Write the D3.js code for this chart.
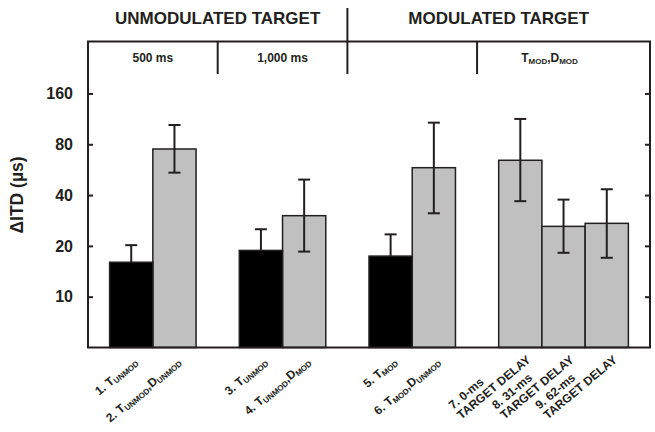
<!DOCTYPE html>
<html>
<head>
<meta charset="utf-8">
<script src="https://cdn.jsdelivr.net/npm/d3@7"></script>
<style>
  html, body { margin: 0; padding: 0; background: #fff; }
  svg { display: block; font-family: "Liberation Sans", Arial, sans-serif; font-weight: bold; }
</style>
</head>
<body>
<svg id="chart" width="655" height="432"></svg>
<script>
// ---- data ----
const slots = ["1", "2", "gapA", "3", "4", "gapB", "5", "6", "gapC", "7", "8", "9"];
const barIds = ["1", "2", "3", "4", "5", "6", "7", "8", "9"];
const barLabels = [
  ["1. T_{UNMOD}"],
  ["2. T_{UNMOD},D_{UNMOD}"],
  ["3. T_{UNMOD}"],
  ["4. T_{UNMOD},D_{MOD}"],
  ["5. T_{MOD}"],
  ["6. T_{MOD},D_{UNMOD}"],
  ["7. 0-ms", "TARGET DELAY"],
  ["8. 31-ms", "TARGET DELAY"],
  ["9. 62-ms", "TARGET DELAY"]
];
const barValues = [16.0, 75.0, 18.8, 30.2, 17.4, 58.1, 64.3, 26.1, 27.2];
const errLow = [12.7, 54.3, 14.1, 18.5, 12.9, 31.2, 36.8, 18.2, 17.0];
const errHigh = [20.2, 104, 25.1, 49.4, 23.4, 107.4, 113, 37.6, 43.3];
const barKind = ["black", "gray", "black", "gray", "black", "gray", "gray", "gray", "gray"];
const yTicks = [10, 20, 40, 80, 160];
const yDomain = [5, 325];
const groupTitles = ["UNMODULATED TARGET", "MODULATED TARGET"];
const subTitles = ["500 ms", "1,000 ms", "", "T_{MOD},D_{MOD}"];
const yTitle = "\u0394ITD (\u00b5s)";

// ---- layout ----
const L = 88, R = 650, T = 41.5, B = 347.5, HB = 74;
const svg = d3.select("#chart");
const x = d3.scaleBand().domain(slots).range([L, R]).paddingInner(0).paddingOuter(0.5);
const y = d3.scaleLog().domain(yDomain).range([B, T]);
const ink = "#231f20";

function richText(sel, str, mainSize, subSize, shift) {
  const parts = str.split(/(_\{[^}]*\})/).filter(s => s.length);
  let sub = false;
  parts.forEach(p => {
    if (p.startsWith("_{")) {
      sel.append("tspan").attr("font-size", subSize).attr("dy", shift).text(p.slice(2, -1));
      sub = true;
    } else {
      const t = sel.append("tspan").attr("font-size", mainSize).text(p);
      if (sub) { t.attr("dy", -shift); sub = false; }
    }
  });
}

const bars = barIds.map((id, i) => ({ id, v: barValues[i], lo: errLow[i], hi: errHigh[i], kind: barKind[i], label: barLabels[i] }));
const cx = d => x(d.id) + x.bandwidth() / 2;

function drawBars(layer, data) {
  layer.selectAll("rect").data(data).join("rect")
    .attr("x", d => x(d.id))
    .attr("width", x.bandwidth())
    .attr("y", d => y(d.v))
    .attr("height", d => B - y(d.v))
    .attr("fill", d => d.kind === "black" ? "#000" : "#c0c0c0")
    .attr("stroke", ink).attr("stroke-width", 1.5);
}
// gray bars, then error bars, then black bars (black bars hide their lower whiskers)
drawBars(svg.append("g"), bars.filter(d => d.kind === "gray"));
const eb = svg.append("g").selectAll("g").data(bars).join("g")
  .attr("stroke", ink).attr("stroke-width", 2);
eb.append("line").attr("x1", cx).attr("x2", cx).attr("y1", d => y(d.lo)).attr("y2", d => y(d.hi));
eb.append("line").attr("x1", d => cx(d) - 6).attr("x2", d => cx(d) + 6).attr("y1", d => y(d.hi)).attr("y2", d => y(d.hi));
eb.append("line").attr("x1", d => cx(d) - 6).attr("x2", d => cx(d) + 6).attr("y1", d => y(d.lo)).attr("y2", d => y(d.lo));
drawBars(svg.append("g"), bars.filter(d => d.kind === "black"));

// frame
svg.append("rect").attr("x", L).attr("y", T).attr("width", R - L).attr("height", B - T)
  .attr("fill", "none").attr("stroke", ink).attr("stroke-width", 2);

// y axes (ticks inward)
const yAxisL = d3.axisRight(y).tickValues(yTicks).tickSize(5).tickFormat("");
svg.append("g").attr("transform", `translate(${L},0)`).call(yAxisL)
  .call(s => s.select(".domain").remove())
  .call(s => s.selectAll("line").attr("stroke", ink).attr("stroke-width", 2));
const yAxisR = d3.axisLeft(y).tickValues(yTicks).tickSize(5).tickFormat("");
svg.append("g").attr("transform", `translate(${R},0)`).call(yAxisR)
  .call(s => s.select(".domain").remove())
  .call(s => s.selectAll("line").attr("stroke", ink).attr("stroke-width", 2));
svg.append("g").selectAll("text").data(yTicks).join("text")
  .attr("x", 73).attr("y", d => y(d)).attr("dy", "0.36em")
  .attr("text-anchor", "end").attr("font-size", 16).attr("fill", ink)
  .text(d => d);

// y title
svg.append("text").attr("transform", `translate(23,195) rotate(-90)`)
  .attr("text-anchor", "middle").attr("font-size", 17.5).attr("fill", ink).text(yTitle);

// header dividers
const divX = [ (x("2") + x.bandwidth() + x("3")) / 2, (x("4") + x.bandwidth() + x("5")) / 2, (x("6") + x.bandwidth() + x("7")) / 2 ];
svg.append("g").selectAll("line").data(divX).join("line")
  .attr("x1", d => d).attr("x2", d => d)
  .attr("y1", (d, i) => i === 1 ? 8 : T).attr("y2", HB)
  .attr("stroke", ink).attr("stroke-width", 2);

// group titles
svg.append("text").attr("x", (L + divX[1]) / 2).attr("y", 24).attr("text-anchor", "middle")
  .attr("font-size", 17).attr("fill", ink).text(groupTitles[0]);
svg.append("text").attr("x", (divX[1] + R) / 2).attr("y", 24).attr("text-anchor", "middle")
  .attr("font-size", 17).attr("fill", ink).text(groupTitles[1]);

// sub titles
const subX = [(L + divX[0]) / 2, (divX[0] + divX[1]) / 2, (divX[1] + divX[2]) / 2, (divX[2] + R) / 2 - 14];
subTitles.forEach((s, i) => {
  if (!s) return;
  const t = svg.append("text").attr("x", subX[i]).attr("y", 62).attr("text-anchor", "middle")
    .attr("fill", ink).attr("font-size", 12);
  richText(t, s, 12, 8, 2);
});

// x labels
const lab = svg.append("g");
bars.forEach(d => {
  const lines = d.label;
  if (lines.length === 1) {
    const gx = lab.append("g").attr("transform", `translate(${cx(d) + 7},363) rotate(-40)`);
    const t = gx.append("text").attr("text-anchor", "end").attr("fill", ink).attr("font-size", 12);
    richText(t, lines[0], 12, 8, 2);
  } else {
    const gx = lab.append("g").attr("transform", `translate(${cx(d) + 11},361) rotate(-40)`);
    const t2 = gx.append("text").attr("text-anchor", "end").attr("fill", ink).attr("font-size", 12).text(lines[1]);
    const w = t2.node().getComputedTextLength();
    gx.append("text").attr("x", -w).attr("y", -13).attr("text-anchor", "start")
      .attr("fill", ink).attr("font-size", 12).text(lines[0]);
  }
});
</script>
</body>
</html>
